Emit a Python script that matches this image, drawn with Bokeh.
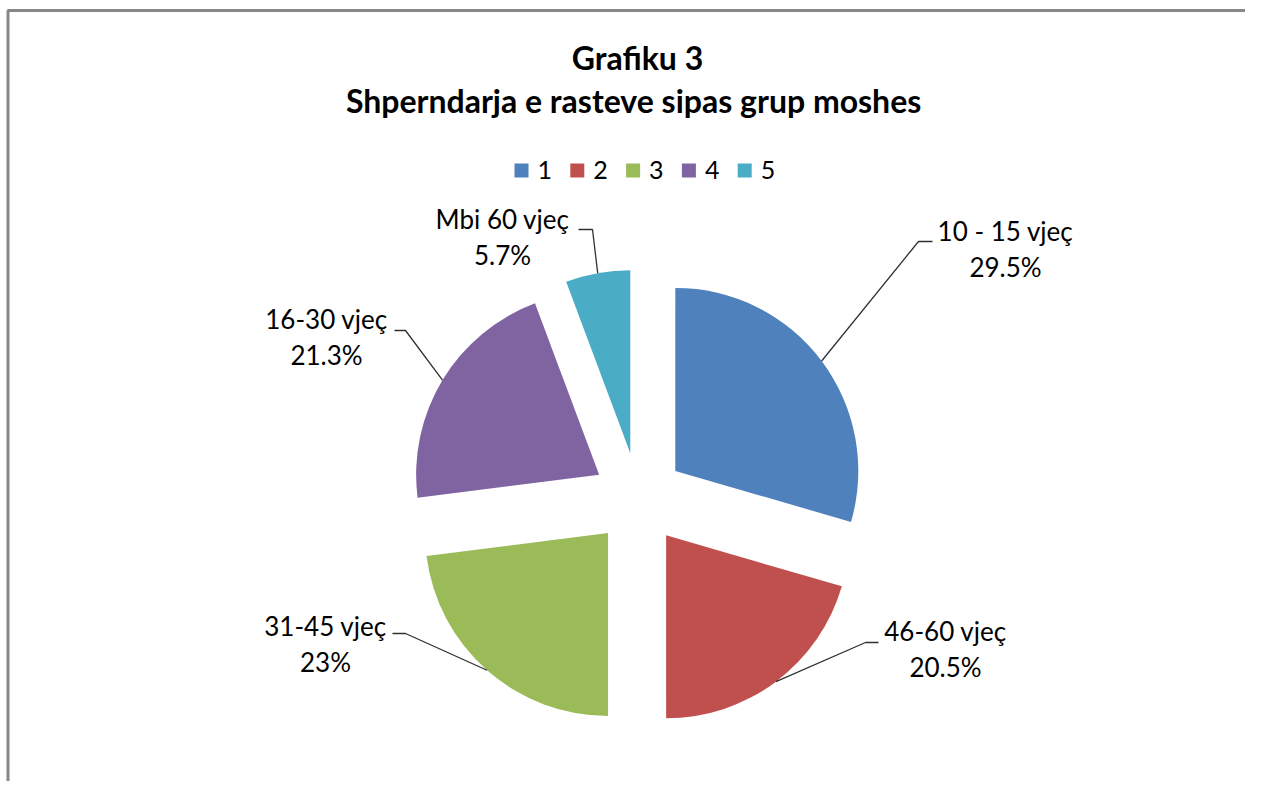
import numpy as np
from bokeh.plotting import figure
from bokeh.models import Range1d
from bokeh.embed import file_html
from bokeh.resources import INLINE
from bokeh.core.properties import value

# ---------------- data ----------------
categories = ["1", "2", "3", "4", "5"]
age_groups = ["10 - 15 vjeç", "46-60 vjeç", "31-45 vjeç", "16-30 vjeç", "Mbi 60 vjeç"]
shares = [29.5, 20.5, 23.0, 21.3, 5.7]
title_lines = ["Grafiku 3", "Shperndarja  e rasteve sipas grup moshes"]

# ---------------- style / layout ----------------
colors = ["#4F81BD", "#C0504D", "#9BBB59", "#8064A2", "#4BACC6"]
FONT = "Lato"
W, H = 1245, 781
PAGE_H = 797
OFF = 0
TXT_DY = -10  # compensation of text baseline placement


def Y(py):
    return PAGE_H - py


CX, CY = 638, Y(498)
R = 183
EXPLODE = 46

label_x = [1005, 945, 325, 326, 502]
label_base = [240, 640, 635, 328, 228]
LINE_GAP = 36
elbow = [(918, 241), (865, 642), (405, 633), (405, 330), (592, 229)]
tick_end = [(932, 241), (878, 642), (392, 633), (394, 330), (578, 229)]

p = figure(width=W, height=H, output_backend="svg", toolbar_location=None,
           x_range=Range1d(OFF, OFF + W), y_range=Range1d(Y(OFF + H), Y(OFF)),
           min_border=0, background_fill_color="white")
p.axis.visible = False
p.grid.visible = False
p.outline_line_color = None

# chart border (top and left visible)
p.line(x=[7.5, 7.5, OFF + W], y=[Y(OFF + H), Y(10), Y(10)], line_color="#878787", line_width=3)

# ---------------- pie ----------------
vals = np.array(shares, dtype=float)
frac = vals / vals.sum()
cum = np.cumsum(frac)
th2 = 2 * np.pi * cum
th1 = np.concatenate([[0.0], th2[:-1]])
mid = (th1 + th2) / 2
dx, dy = np.sin(mid), np.cos(mid)
ax = CX + EXPLODE * dx
ay = CY + EXPLODE * dy
start = np.pi / 2 - th2
end = np.pi / 2 - th1

p.wedge(x=ax, y=ay, radius=R, start_angle=start, end_angle=end,
        direction="anticlock", fill_color=colors, line_color=None)

# leader lines
arc_x = ax + R * dx
arc_y = ay + R * dy
xs = [[arc_x[i], elbow[i][0], tick_end[i][0]] for i in range(len(vals))]
ys = [[arc_y[i], Y(elbow[i][1]), Y(tick_end[i][1])] for i in range(len(vals))]
p.multi_line(xs=xs, ys=ys, line_color="#303030", line_width=1.3)

# data labels
pct_text = [f"{v:g}%" for v in shares]
p.text(x=label_x, y=[Y(b + TXT_DY) for b in label_base], text=age_groups,
       text_font=value(FONT), text_font_size="26px", text_align="center",
       text_baseline="alphabetic", text_color="#000000")
p.text(x=label_x, y=[Y(b + LINE_GAP + TXT_DY) for b in label_base], text=pct_text,
       text_font=value(FONT), text_font_size="26px", text_align="center",
       text_baseline="alphabetic", text_color="#000000")

# ---------------- title ----------------
p.text(x=[637, 637], y=[Y(68 + TXT_DY - 1), Y(111 + TXT_DY - 1)], text=title_lines,
       text_font=value(FONT), text_font_size="32px", text_font_style="bold",
       text_align="center", text_baseline="alphabetic", text_color="#000000")

# ---------------- legend ----------------
leg_x0, leg_step, leg_y = 521, 55.8, Y(170)
lx = [leg_x0 + i * leg_step for i in range(len(categories))]
p.rect(x=lx, y=[leg_y] * len(categories), width=14, height=14,
       fill_color=colors, line_color=None)
p.text(x=[v + 16 for v in lx], y=[Y(180 + TXT_DY - 1)] * len(categories), text=categories,
       text_font=value(FONT), text_font_size="25px", text_align="left",
       text_baseline="alphabetic", text_color="#000000")

open("out.html", "w").write(file_html(p, INLINE))
